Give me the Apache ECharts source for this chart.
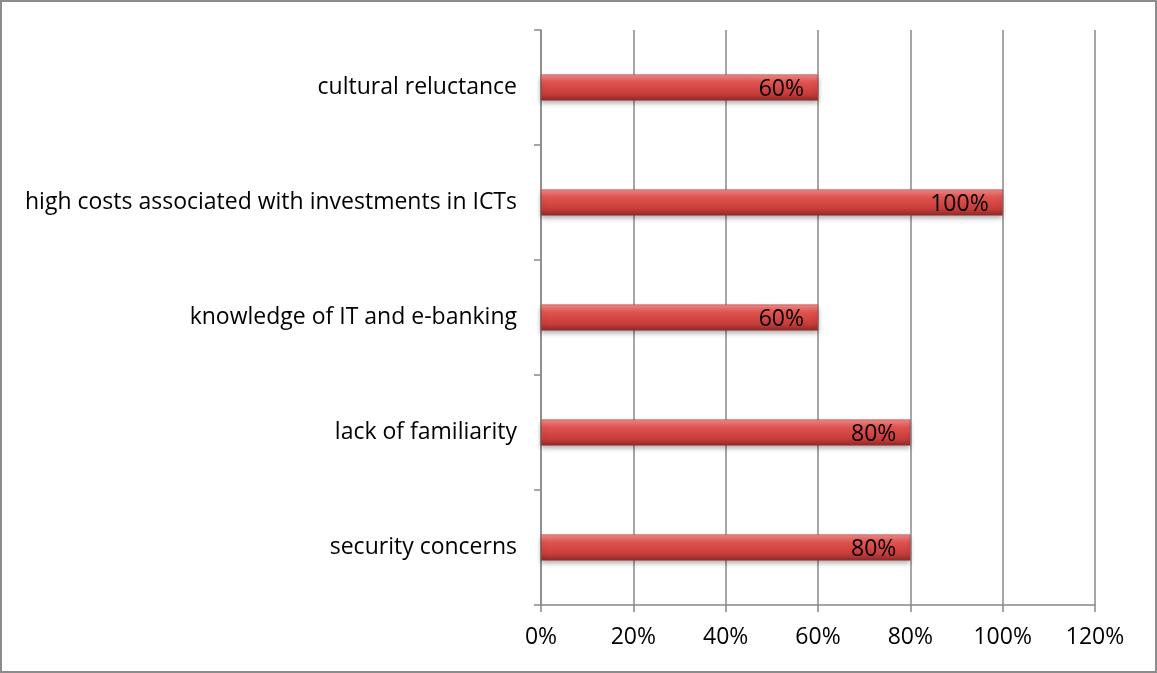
<!DOCTYPE html>
<html><head><meta charset="utf-8">
<script src="https://cdn.jsdelivr.net/npm/echarts@6/dist/echarts.min.js"></script>
<style>html,body{margin:0;padding:0;background:#fff}#c{width:1157px;height:673px}</style>
</head><body><div id="c"></div>
<script>
const categories = ['security concerns','lack of familiarity','knowledge of IT and e-banking','high costs associated with investments in ICTs','cultural reluctance'];
const values = [80, 80, 60, 100, 60];
const xTicks = [0, 20, 40, 60, 80, 100, 120];

const chart = echarts.init(document.getElementById('c'));
const font = 'Open Sans, Liberation Sans, Arial, sans-serif';
chart.setOption({
  animation: false,
  backgroundColor: '#fff',
  graphic: [{type:'rect', shape:{x:1,y:1,width:1155,height:671}, style:{fill:'none', stroke:'#8c8c8c', lineWidth:2}}],
  grid: {left: 541, right: 62, top: 30, bottom: 68},
  xAxis: {
    type: 'value', min: 0, max: 120, interval: 20,
    axisLabel: {formatter: v => v + '%', color:'#000', fontSize: 23, fontFamily: font, margin: 21},
    axisLine: {show: true, lineStyle:{color:'#888', width:1.5}},
    axisTick: {show: true, length: 7, lineStyle:{color:'#888', width:1.5}},
    splitLine: {show: true, lineStyle:{color:'#888', width:1.5}}
  },
  yAxis: {
    type: 'category', data: categories,
    axisLabel: {color:'#000', fontSize: 23, fontFamily: font, margin: 24},
    axisLine: {show: true, lineStyle:{color:'#888', width:1.5}},
    axisTick: {show: true, length: 7, lineStyle:{color:'#888', width:1.5}},
    splitLine: {show: false}
  },
  series: [{
    type: 'bar', data: values, barWidth: 26,
    itemStyle: {
      color: new echarts.graphic.LinearGradient(0,0,0,1,[
        {offset:0, color:'#f28c8a'},
        {offset:0.3, color:'#e0534f'},
        {offset:0.75, color:'#c63c39'},
        {offset:1, color:'#8e2a28'}
      ]),
      borderColor:'#9a3432', borderWidth: 0.5,
      shadowColor:'rgba(0,0,0,0.35)', shadowBlur: 5, shadowOffsetY: 3
    },
    label: {show: true, position: 'insideRight', formatter: p => p.value + '%', color:'#000', fontSize: 23, fontFamily: font, offset:[-9,2]}
  }]
});
</script></body></html>
